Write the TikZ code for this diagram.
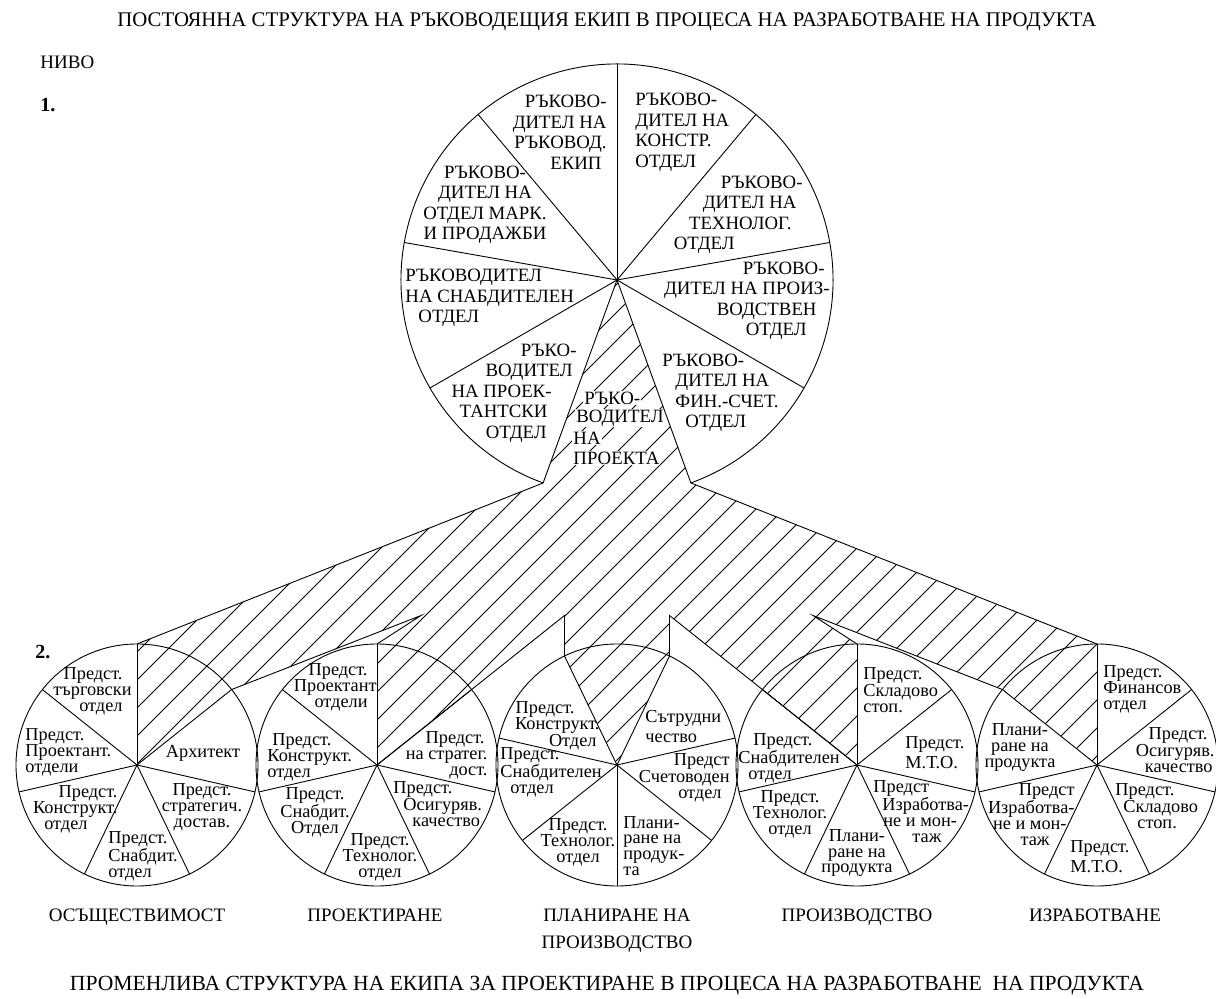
\documentclass[tikz,border=0pt]{standalone}
\usepackage{fontspec}
\setmainfont{Liberation Serif}
\usetikzlibrary{calc}
\newcommand\tpad[1]{\rule{#1}{0pt}}
\begin{document}
\begin{tikzpicture}[x=1pt,y=1pt,line width=0.9pt,
  big/.style={font=\fontsize{18.8}{20.5}\selectfont, inner sep=0pt},
  small/.style={font=\fontsize{18.3}{15.9}\selectfont, inner sep=0pt},
  wide/.style={font=\fontsize{18.3}{20}\selectfont, inner sep=0pt},
  head/.style={font=\fontsize{19}{27}\selectfont, inner sep=0pt},
  lvl/.style={font=\fontsize{20}{24}\selectfont\bfseries, inner sep=0pt},
  knock/.style={big, fill=white, inner sep=1pt},
  hatch/.style={line width=0.8pt}]
\useasboundingbox (0,0) rectangle (1216,999);

% ---- key points ----
\coordinate (T) at (617,719);
\coordinate (L0) at ($(T)+(250:216)$);
\coordinate (R0) at ($(T)+(290:216)$);
\foreach \i/\x in {1/137,2/377,3/617,4/857,5/1097}{
  \coordinate (C\i) at (\x,234);
  \coordinate (C\i top) at (\x,355);
}
\coordinate (E1) at ($(C1)+(38.571:121)$);
\coordinate (E5) at ($(C5)+(141.429:121)$);
\coordinate (P3L) at ($(C3)+(115.714:121)$);
\coordinate (P3R) at ($(C3)+(64.286:121)$);
\coordinate (A12) at (421,383.5);
\coordinate (A23) at (564.5,383.5);
\coordinate (A34) at (669.5,383.5);
\coordinate (A45) at (813,383.5);

% ---- hatched band of the project leader ----
\begin{scope}
  \clip (T) -- (L0) -- (C1top) -- (C1) -- (E1) -- (A12) -- (C2top) -- (C2)
    -- (A23) -- (P3L) -- (C3) -- (P3R) -- (A34) -- (C4) -- (C4top) -- (A45)
    -- (E5) -- (C5) -- (C5top) -- (R0) -- cycle;
  \foreach \c in {-1106,-1078,...,760}
    \draw[hatch] (0,\c) -- (1216,1216+\c);
\end{scope}

% ---- project leader label (knocks out the hatching) ----
\node[knock,anchor=west] (pl1) at (583,601) {РЪКО-};
\node[knock,anchor=west] (pl2) at (575,581) {ВОДИТЕЛ};
\node[knock,anchor=west] (pl3) at (572,561) {НА};
\node[knock,anchor=west] (pl4) at (572,541) {ПРОЕКТА};

% ---- level 1: permanent team ----
\draw (R0) arc[start angle=290, end angle=610, radius=216];
\foreach \a in {90,130,170,210,250,290,330,10,50}
  \draw (T) -- ++(\a:216);
\draw (L0) -- (C1top);
\draw (R0) -- (C5top);

% ---- level 2: circles ----
\foreach \i in {1,2,4,5}{
  \draw (C\i) circle[radius=121];
  \foreach \a in {90,141.429,192.857,244.286,295.714,347.143,38.571}
    \draw (C\i) -- ++(\a:121);
}
\draw (C3) circle[radius=121];
\foreach \a in {270,321.429,12.857,64.286,115.714,167.143,218.571}
  \draw (C3) -- ++(\a:121);

% band edges between the circles
\draw (E1) -- (A12) -- (C2top);
\draw (C2) -- (A23) -- (P3L);
\draw (C4) -- (A34) -- (P3R);
\draw (C4top) -- (A45) -- (E5);

% ---- texts of the big circle ----
\node[big,anchor=east,align=right] (t1) at (607,866.5) {РЪКОВО-\\ДИТЕЛ НА\\РЪКОВОД.\\ЕКИП\tpad{5pt}};
\node[big,anchor=west,align=left] (t9) at (635,866.5) {РЪКОВО-\\ДИТЕЛ НА\\КОНСТР.\\ОТДЕЛ};
\node[big,align=center] (t2) at (485,794) {РЪКОВО-\\ДИТЕЛ НА\\ОТДЕЛ МАРК.\\И ПРОДАЖБИ};
\node[big,anchor=east,align=right] (t8) at (803,784) {РЪКОВО-\\ДИТЕЛ НА\tpad{6pt}\\ТЕХНОЛОГ.\tpad{11pt}\\ОТДЕЛ\tpad{68pt}};
\node[big,anchor=west,align=left] (t3) at (405,701) {РЪКОВОДИТЕЛ\\НА СНАБДИТЕЛЕН\\\tpad{13pt}ОТДЕЛ};
\node[big,anchor=east,align=right] (t7) at (830,698) {РЪКОВО-\tpad{5pt}\\ДИТЕЛ НА ПРОИЗ-\\ВОДСТВЕН\tpad{13pt}\\ОТДЕЛ\tpad{23pt}};
\node[big,anchor=east,align=right] (t4) at (577,606) {РЪКО-\\ВОДИТЕЛ\tpad{4pt}\\НА ПРОЕК-\tpad{25pt}\\ТАНТСКИ\tpad{29pt}\\ОТДЕЛ\tpad{30pt}};
\node[big,anchor=west,align=left] (t6) at (662,606) {РЪКОВО-\\\tpad{13pt}ДИТЕЛ НА\\\tpad{13pt}ФИН.-СЧЕТ.\\\tpad{23pt}ОТДЕЛ};

% ---- texts of circle 1 ----
\node[small,anchor=east,align=right] (a1) at (132,308) {Предст.\tpad{9pt}\\търговски\\отдел\tpad{9pt}};
\node[small,anchor=west,align=left] (a2) at (25,246.5) {Предст.\\Проектант.\\отдели};
\node[small,anchor=east,align=right] (a3) at (118,190) {Предст.\\Конструкт.\\отдел\tpad{30pt}};
\node[small,anchor=west,align=left] (a4) at (108,143) {Предст.\\Снабдит.\\отдел};
\node[small,align=center] (a5) at (202,191.5) {Предст.\\стратегич.\\достав.};
\node[small] (a6) at (203,246) {Архитект};

% ---- texts of circle 2 ----
\node[small,anchor=east,align=right] (b1) at (377,311.5) {Предст.\tpad{9pt}\\Проектант\\отдели\tpad{9pt}};
\node[small,anchor=west,align=left] (b2) at (267,242) {\tpad{5pt}Предст.\\Конструкт.\\отдел};
\node[small,align=center] (b3) at (315,186.5) {Предст.\\Снабдит.\\Отдел};
\node[small,align=center] (b4) at (380,141.5) {Предст.\\Технолог.\\отдел};
\node[small,anchor=west,align=left] (b5) at (393,195) {Предст.\\\tpad{10pt}Осигуряв.\\\tpad{19pt}качество};
\node[small,anchor=east,align=right] (b6) at (488,244) {Предст.\tpad{3pt}\\на стратег.\\дост.};

% ---- texts of circle 3 ----
\node[small,anchor=east,align=right] (c1) at (600,273) {Предст.\tpad{25pt}\\Конструкт.\\Отдел\tpad{3pt}};
\node[small,anchor=west,align=left] (c2) at (500,226.5) {Предст.\\Снабдителен\\\tpad{10pt}отдел};
\node[small,align=center] (c3) at (578,157) {Предст.\\Технолог.\\отдел};
\node[small,anchor=west,align=left] (c4) at (623,153) {Плани-\\ране на\\продук-\\та};
\node[small,anchor=east,align=right] (c5) at (730,221.5) {Предст\\Счетоводен\\отдел\tpad{8pt}};
\node[wide,anchor=west,align=left] (c6) at (645,272) {Сътрудни\\чество};

% ---- texts of circle 4 ----
\node[small,anchor=west,align=left] (d1) at (738,241) {\tpad{15pt}Предст.\\Снабдителен\\\tpad{10pt}отдел};
\node[small,align=center] (d2) at (790,185) {Предст.\\Технолог.\\отдел};
\node[small,align=center] (d3) at (857,146) {Плани-\\ране на\\продукта};
\node[small,anchor=west,align=left] (d4) at (873,187.5) {Предст\\\tpad{9pt}Изработва-\\\tpad{10pt}не и мон-\\\tpad{39pt}таж};
\node[wide,anchor=west,align=left] (d5) at (905,246) {Предст.\\М.Т.О.};
\node[small,anchor=west,align=left] (d6) at (863,309) {Предст.\\Складово\\стоп.};

% ---- texts of circle 5 ----
\node[small,align=center] (e1) at (1020,251.5) {Плани-\\ране на\\продукта};
\node[small,anchor=east,align=right] (e2) at (1075,184.5) {Предст\\Изработва-\\не и мон-\tpad{8pt}\\таж\tpad{25pt}};
\node[wide,anchor=west,align=left] (e3) at (1070,142) {Предст.\\М.Т.О.};
\node[small,anchor=west,align=left] (e4) at (1115,193) {Предст.\\\tpad{8pt}Складово\\\tpad{22pt}стоп.};
\node[small,anchor=east,align=right] (e5) at (1215,249) {Предст.\tpad{7pt}\\Осигуряв.\\качество\tpad{2pt}};
\node[small,anchor=west,align=left] (e6) at (1103,310) {Предст.\\Финансов\\отдел};

% ---- headings and phase names ----
\node[head,font=\fontsize{20.8}{27}\selectfont,anchor=base] (title) at (607,972) {ПОСТОЯННА СТРУКТУРА НА РЪКОВОДЕЩИЯ ЕКИП В ПРОЦЕСА НА РАЗРАБОТВАНЕ НА ПРОДУКТА};
\node[head,anchor=west] (nivo) at (40,937) {НИВО};
\node[lvl,anchor=west] (lv1) at (40,894) {1.};
\node[lvl,anchor=west] (lv2) at (35,347) {2.};
\node[head,anchor=base] (ph1) at (137,77.5) {ОСЪЩЕСТВИМОСТ};
\node[head,anchor=base] (ph2) at (375,77.5) {ПРОЕКТИРАНЕ};
\node[head,align=center] (ph3) at (617,68.5) {ПЛАНИРАНЕ НА\\ПРОИЗВОДСТВО};
\node[head,anchor=base] (ph4) at (857,77.5) {ПРОИЗВОДСТВО};
\node[head,anchor=base] (ph5) at (1095,77.5) {ИЗРАБОТВАНЕ};
\node[head,font=\fontsize{21.6}{27}\selectfont,anchor=base] (foot) at (607,9) {ПРОМЕНЛИВА СТРУКТУРА НА ЕКИПА ЗА ПРОЕКТИРАНЕ В ПРОЦЕСА НА РАЗРАБОТВАНЕ\ \ НА ПРОДУКТА};
\end{tikzpicture}
\end{document}
